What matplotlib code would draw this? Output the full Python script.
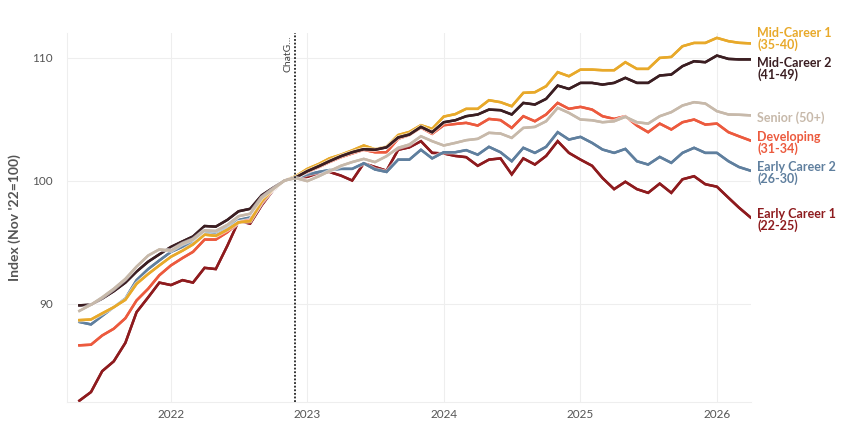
import matplotlib
matplotlib.use("Agg")
import matplotlib.pyplot as plt
import matplotlib.dates as mdates
import matplotlib.patheffects as pe
import pandas as pd

plt.rcParams['font.family'] = ['Lato', 'DejaVu Sans']

months = pd.date_range("2021-05-01", periods=60, freq="MS")

early_career_1 = [82.1, 82.8, 84.5, 85.3, 86.8, 89.3, 90.5, 91.7, 91.5, 91.9,
                  91.7, 92.9, 92.8, 94.7, 96.7, 96.5, 98.0, 99.2, 100.0, 100.2,
                  100.3, 100.6, 100.7, 100.4, 100.0, 101.4, 101.1, 100.8, 102.5, 102.7,
                  103.2, 102.25, 102.2, 102.0, 101.9, 101.2, 101.7, 101.8, 100.5, 101.8,
                  101.3, 102.0, 103.2, 102.25, 101.7, 101.2, 100.2, 99.3, 99.9, 99.3,
                  99.0, 99.75, 99.0, 100.1, 100.35, 99.7, 99.5, 98.6, 97.8, 97.0]

early_career_2 = [88.5, 88.3, 89.0, 89.7, 90.4, 91.9, 92.8, 93.5, 94.2, 94.6,
                  95.0, 95.8, 95.7, 96.2, 96.8, 97.0, 98.4, 99.3, 100.0, 100.2,
                  100.5, 100.7, 100.85, 100.95, 100.95, 101.4, 100.9, 100.7, 101.7, 101.7,
                  102.5, 101.8, 102.3, 102.3, 102.47, 102.1, 102.74, 102.3, 101.57, 102.66,
                  102.25, 102.74, 103.93, 103.33, 103.55, 103.06, 102.52, 102.25, 102.57, 101.57,
                  101.3, 101.92, 101.44, 102.25, 102.66, 102.25, 102.25, 101.57, 101.1, 100.8]

developing = [86.6, 86.65, 87.4, 87.95, 88.8, 90.25, 91.2, 92.3, 93.1, 93.7,
              94.2, 95.2, 95.2, 95.8, 96.6, 96.8, 98.2, 99.3, 100.0, 100.3,
              100.7, 101.1, 101.5, 101.9, 102.2, 102.5, 102.3, 102.3, 103.4, 103.7,
              104.3, 103.8, 104.5, 104.6, 104.69, 104.47, 105.01, 104.91, 104.28, 105.23,
              104.82, 105.37, 106.31, 105.83, 105.99, 105.77, 105.23, 105.01, 105.23, 104.47,
              103.93, 104.63, 104.15, 104.74, 104.96, 104.55, 104.63, 103.93, 103.6, 103.25]

mid_career_1 = [88.65, 88.7, 89.2, 89.7, 90.3, 91.6, 92.4, 93.1, 93.8, 94.3,
                94.8, 95.6, 95.5, 96.0, 96.6, 96.7, 98.3, 99.3, 100.0, 100.35,
                100.95, 101.35, 101.8, 102.1, 102.45, 102.85, 102.55, 102.75, 103.7, 103.95,
                104.5, 104.2, 105.2, 105.4, 105.83, 105.83, 106.53, 106.37, 106.04, 107.13,
                107.18, 107.67, 108.81, 108.48, 109.02, 109.02, 108.97, 108.97, 109.62, 109.08,
                109.08, 109.97, 110.05, 110.92, 111.19, 111.19, 111.6, 111.33, 111.2, 111.15]

mid_career_2 = [89.85, 89.9, 90.4, 91.0, 91.7, 92.6, 93.4, 94.0, 94.6, 95.05,
                95.45, 96.3, 96.25, 96.8, 97.5, 97.7, 98.8, 99.4, 100.0, 100.25,
                100.76, 101.17, 101.57, 101.98, 102.3, 102.55, 102.5, 102.7, 103.5, 103.74,
                104.36, 103.93, 104.74, 104.9, 105.23, 105.37, 105.77, 105.72, 105.37, 106.31,
                106.18, 106.64, 107.72, 107.45, 107.94, 107.94, 107.8, 107.94, 108.35, 107.94,
                107.94, 108.54, 108.62, 109.3, 109.7, 109.62, 110.16, 109.89, 109.85, 109.85]

senior = [89.4, 89.9, 90.5, 91.2, 92.0, 93.0, 93.9, 94.4, 94.3, 94.85,
          95.2, 95.95, 95.9, 96.4, 97.1, 97.3, 98.6, 99.3, 100.0, 100.2,
          99.95, 100.35, 100.76, 101.2, 101.5, 101.76, 101.5, 101.98, 102.66, 102.93,
          103.6, 103.2, 102.85, 103.06, 103.28, 103.39, 103.88, 103.82, 103.47, 104.28,
          104.36, 104.82, 105.91, 105.5, 104.96, 104.9, 104.74, 104.82, 105.18, 104.74,
          104.63, 105.23, 105.56, 106.1, 106.37, 106.26, 105.64, 105.37, 105.35, 105.3]

# drawing order: first is at the bottom
series = [
    ("Early Career 1\n(22-25)", early_career_1, "#8E1B1E"),
    ("Early Career 2\n(26-30)", early_career_2, "#5F7F9E"),
    ("Developing\n(31-34)", developing, "#EC5A3E"),
    ("Mid-Career 1\n(35-40)", mid_career_1, "#E8A92A"),
    ("Mid-Career 2\n(41-49)", mid_career_2, "#3B1E22"),
    ("Senior (50+)", senior, "#C7B9AA"),
]

chatgpt_date = pd.Timestamp("2022-11-30")

fig = plt.figure(figsize=(8.49, 4.28), dpi=100)
ax = fig.add_axes([0.079, 0.061, 0.805, 0.862])

for label, values, color in series:
    ax.plot(months, values, color=color, lw=1.8, solid_joinstyle="miter",
            path_effects=[pe.withStroke(linewidth=3.2, foreground="white", alpha=0.6), pe.Normal()])

# end labels, pushed apart where they would overlap
ends = sorted([[vals[-1], lab, col] for lab, vals, col in series], key=lambda r: r[0])
for _ in range(50):
    for a, b in zip(ends[:-1], ends[1:]):
        gap = 0.55 * (a[1].count("\n") + b[1].count("\n") + 2) + 0.2
        if b[0] - a[0] < gap:
            d = (gap - (b[0] - a[0])) / 2
            a[0] -= d
            b[0] += d
for y, lab, col in ends:
    ax.annotate(lab, xy=(months[-1], y - 0.2), xytext=(5, 0), textcoords="offset points",
                va="center", ha="left", color=col, fontsize=9, fontweight="bold",
                linespacing=0.95, annotation_clip=False)

ax.axvline(chatgpt_date, color="#222222", lw=1.3, ls=(0, (1, 1)), zorder=5)
ax.text(chatgpt_date - pd.Timedelta(days=8), 111.8, "ChatG...", rotation=90,
        ha="right", va="top", fontsize=7.5, color="#444444")

ax.set_xlim(pd.Timestamp("2021-03-29"), months[-1])
ax.set_ylim(82, 112)
ax.set_yticks([90, 100, 110])
ax.xaxis.set_major_locator(mdates.YearLocator())
ax.xaxis.set_major_formatter(mdates.DateFormatter("%Y"))
ax.tick_params(length=0, labelsize=8.5, labelcolor="#555555")
ax.tick_params(axis="y", pad=10)
ax.tick_params(axis="x", pad=5)
ax.grid(color="#EEEEEE", lw=0.8)
ax.set_axisbelow(True)
for side in ["top", "right"]:
    ax.spines[side].set_visible(False)
for side in ["left", "bottom"]:
    ax.spines[side].set_color("#EEEEEE")
    ax.spines[side].set_linewidth(0.8)
ax.set_ylabel("Index (Nov '22=100)", fontsize=10, fontweight="bold", color="#555555", labelpad=8)

fig.savefig("out.png", dpi=100)
